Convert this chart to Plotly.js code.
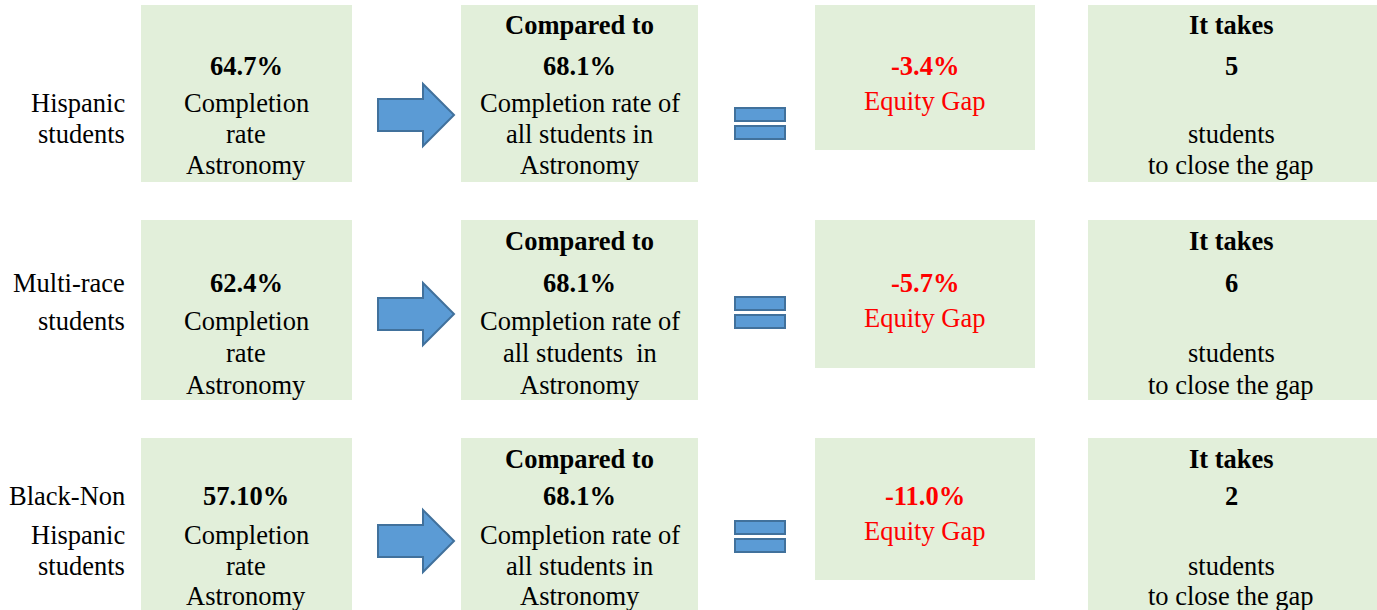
<!DOCTYPE html>
<html>
<head>
<meta charset="utf-8">
<script src="https://cdn.plot.ly/plotly-3.0.1.min.js"></script>
<style>html,body{margin:0;padding:0;background:#fff;}#chart{width:1377px;height:610px;}</style>
</head>
<body>
<div id="chart"></div>
<script>
// ---- data ----
const groupLabels = [["Hispanic", "students"], ["Multi-race", "students"], ["Black-Non", "Hispanic", "students"]];
const groupRates = [64.7, 62.4, 57.10];
const rateDecimals = [1, 1, 2];
const overallRate = [68.1, 68.1, 68.1];
const equityGaps = [-3.4, -5.7, -11.0];
const studentsToClose = [5, 6, 2];
const courseName = "Astronomy";
const overallLines = [["Completion rate of", "all students in"], ["Completion rate of", "all students  in"], ["Completion rate of", "all students in"]];

// ---- layout geometry ----
const W = 1377, H = 610;
const rowTop = [5, 220, 438];
const rowBottom = [182, 400, 620];
const gapBottom = [150, 368, 580];
const textY = [[25, 66, 103, 134, 165], [241, 283, 321, 353, 385], [459, 496, 535, 566, 596]];
const labelY = [[103, 134], [283, 321], [496, 535, 566]];
const arrowY = [115, 314, 541];
const eqY = [123, 312, 536];
const boxFill = "#E2EFDA";
const blueFill = "#5B9BD5", blueLine = "#41719C";
const serif = "Liberation Serif";
const FS = 26.5;

const shapes = [], annotations = [];
function ann(x, y, text, opts) {
  opts = opts || {};
  annotations.push(Object.assign({
    x: x, y: y, xref: "x", yref: "y", text: text, showarrow: false,
    xanchor: "center", yanchor: "middle",
    font: {family: serif, size: FS, color: "#000"}
  }, opts));
}
function rect(x0, y0, x1, y1) {
  shapes.push({type: "rect", xref: "x", yref: "y", x0: x0, x1: x1, y0: y0, y1: y1,
    fillcolor: boxFill, line: {width: 0}, layer: "below"});
}

for (let r = 0; r < 3; r++) {
  const ty = textY[r];
  rect(141, rowTop[r], 352, rowBottom[r]);
  rect(461, rowTop[r], 698, rowBottom[r]);
  rect(815, rowTop[r], 1035, gapBottom[r]);
  rect(1088, rowTop[r], 1380, rowBottom[r]);

  groupLabels[r].forEach((t, i) => ann(127, labelY[r][i], t, {xanchor: "right"}));

  ann(246, ty[1], "<b>" + groupRates[r].toFixed(rateDecimals[r]) + "%</b>");
  ann(246, ty[2], "Completion");
  ann(246, ty[3], "rate");
  ann(246, ty[4], courseName);

  const cy = arrowY[r];
  shapes.push({type: "path", xref: "x", yref: "y",
    path: `M378,${cy-16} L423,${cy-16} L423,${cy-31} L454,${cy} L423,${cy+31} L423,${cy+16} L378,${cy+16} Z`,
    fillcolor: blueFill, line: {color: blueLine, width: 2}});

  ann(579.5, ty[0], "<b>Compared to</b>");
  ann(579.5, ty[1], "<b>" + overallRate[r].toFixed(1) + "%</b>");
  ann(579.5, ty[2], overallLines[r][0]);
  ann(579.5, ty[3], overallLines[r][1]);
  ann(579.5, ty[4], courseName);

  const ey = eqY[r];
  shapes.push({type: "rect", xref: "x", yref: "y", x0: 735, x1: 785, y0: ey-15, y1: ey-2,
    fillcolor: blueFill, line: {color: blueLine, width: 2}});
  shapes.push({type: "rect", xref: "x", yref: "y", x0: 735, x1: 785, y0: ey+3, y1: ey+16,
    fillcolor: blueFill, line: {color: blueLine, width: 2}});

  const red = "#FF0000";
  ann(924.5, ty[1], "<b>" + equityGaps[r].toFixed(1) + "%</b>", {font: {family: serif, size: FS, color: red}});
  ann(924.5, ty[1] + 35, "Equity Gap", {font: {family: serif, size: FS, color: red}});

  ann(1231, ty[0], "<b>It takes</b>");
  ann(1231, ty[1], "<b>" + studentsToClose[r] + "</b>");
  ann(1231, ty[3], "students");
  ann(1231, ty[4], "to close the gap");
}

const layout = {
  width: W, height: H,
  margin: {l: 0, r: 0, t: 0, b: 0},
  paper_bgcolor: "#fff", plot_bgcolor: "#fff",
  showlegend: false,
  font: {family: serif},
  xaxis: {range: [0, W], visible: false, fixedrange: true},
  yaxis: {range: [H, 0], visible: false, fixedrange: true},
  shapes: shapes,
  annotations: annotations
};
Plotly.newPlot("chart", [{x: [], y: [], type: "scatter", mode: "markers", hoverinfo: "skip"}], layout, {displayModeBar: false, staticPlot: true});
</script>
</body>
</html>
